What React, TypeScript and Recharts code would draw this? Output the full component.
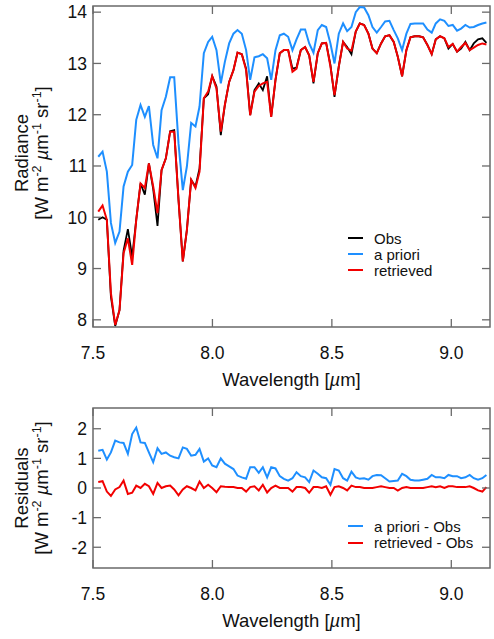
import { LineChart, Line, XAxis, YAxis, ReferenceArea, Legend } from 'recharts';

// sample grid (µm)
const WAVELENGTH = [
  7.522, 7.540, 7.558, 7.575, 7.593, 7.611, 7.628, 7.646, 7.664, 7.681,
  7.699, 7.717, 7.734, 7.752, 7.770, 7.787, 7.805, 7.823, 7.840, 7.858,
  7.876, 7.893, 7.911, 7.929, 7.946, 7.964, 7.982, 7.999, 8.017, 8.035,
  8.052, 8.070, 8.088, 8.105, 8.123, 8.141, 8.158, 8.176, 8.194, 8.211,
  8.229, 8.246, 8.264, 8.282, 8.299, 8.317, 8.335, 8.352, 8.370, 8.388,
  8.405, 8.423, 8.441, 8.458, 8.476, 8.494, 8.511, 8.529, 8.547, 8.564,
  8.582, 8.600, 8.617, 8.635, 8.653, 8.670, 8.688, 8.706, 8.723, 8.741,
  8.759, 8.776, 8.794, 8.812, 8.829, 8.847, 8.865, 8.882, 8.900, 8.918,
  8.935, 8.953, 8.971, 8.988, 9.006, 9.024, 9.041, 9.059, 9.077, 9.094,
  9.112, 9.130, 9.147,
];

const OBS = [
  9.95, 10.0, 9.95, 8.45, 7.88, 8.19, 9.35, 9.77, 9.23, 9.95,
  10.66, 10.44, 11.05, 10.55, 9.83, 10.92, 11.15, 11.68, 11.7, 10.34,
  9.14, 9.75, 10.73, 10.6, 10.95, 12.32, 12.4, 12.75, 12.55, 11.6,
  12.19, 12.64, 12.87, 13.21, 13.18, 12.9, 11.99, 12.48, 12.61, 12.48,
  12.75, 11.96, 12.68, 13.2, 13.26, 13.26, 12.9, 12.92, 13.26, 13.32,
  13.16, 12.61, 13.2, 13.39, 13.4, 12.97, 12.35, 12.94, 13.42, 13.32,
  13.18, 13.62, 13.78, 13.75, 13.58, 13.29, 13.2, 13.39, 13.53, 13.55,
  13.42, 13.13, 12.75, 13.26, 13.51, 13.53, 13.53, 13.51, 13.36, 13.18,
  13.47, 13.53, 13.49, 13.29, 13.38, 13.23, 13.29, 13.42, 13.26, 13.39,
  13.47, 13.49, 13.4,
];

const A_PRIORI = [
  11.18, 11.28, 10.89, 9.89, 9.5, 9.72, 10.6, 10.89, 11.02, 11.9,
  12.19, 11.96, 12.17, 11.41, 11.15, 12.09, 12.35, 12.73, 12.73, 11.44,
  10.53, 10.99, 11.84, 11.77, 12.16, 13.2, 13.42, 13.52, 13.26, 12.61,
  13.03, 13.39, 13.58, 13.65, 13.58, 13.26, 12.68, 13.12, 13.14, 13.18,
  13.1, 12.68, 13.26, 13.55, 13.58, 13.52, 13.26, 13.47, 13.66, 13.66,
  13.39, 13.21, 13.65, 13.75, 13.71, 13.39, 13.0, 13.58, 13.78, 13.63,
  13.71, 14.0, 14.1, 14.09, 13.94, 13.71, 13.6, 13.71, 13.82, 13.83,
  13.65, 13.49, 13.26, 13.58, 13.77, 13.78, 13.78, 13.78, 13.66, 13.6,
  13.78, 13.86, 13.83, 13.73, 13.75, 13.64, 13.68, 13.75, 13.7, 13.71,
  13.75, 13.78, 13.8,
];

const RETRIEVED = [
  10.11, 10.23, 9.95, 8.52, 7.9, 8.19, 9.3, 9.59, 9.07, 9.95,
  10.66, 10.57, 11.05, 10.6, 10.08, 10.92, 11.15, 11.67, 11.67, 10.34,
  9.14, 9.75, 10.73, 10.57, 10.89, 12.32, 12.45, 12.75, 12.51, 11.67,
  12.19, 12.64, 12.87, 13.21, 13.18, 12.87, 11.99, 12.45, 12.56, 12.61,
  12.64, 11.96, 12.68, 13.2, 13.26, 13.26, 12.84, 12.9, 13.26, 13.32,
  13.16, 12.64, 13.2, 13.39, 13.4, 12.94, 12.38, 12.94, 13.42, 13.29,
  13.25, 13.62, 13.78, 13.75, 13.58, 13.29, 13.2, 13.39, 13.53, 13.55,
  13.42, 13.13, 12.75, 13.26, 13.51, 13.53, 13.53, 13.51, 13.36, 13.18,
  13.47, 13.53, 13.49, 13.32, 13.38, 13.23, 13.32, 13.4, 13.26, 13.31,
  13.36, 13.39, 13.37,
];

const RES_A_PRIORI = [
  1.26, 1.29, 0.96, 1.2, 1.6, 1.54, 1.52, 1.15, 1.82, 2.04,
  1.54, 1.52, 1.2, 0.87, 1.34, 1.15, 1.2, 1.09, 1.04, 1.0,
  1.37, 1.32, 1.09, 1.12, 1.32, 0.89, 1.0, 0.76, 0.7, 1.0,
  0.82, 0.73, 0.64, 0.42, 0.36, 0.31, 0.7, 0.7, 0.51, 0.7,
  0.36, 0.7, 0.66, 0.4, 0.31, 0.25, 0.33, 0.53, 0.4, 0.36,
  0.2, 0.59, 0.48, 0.36, 0.33, 0.11, 0.64, 0.59, 0.33, 0.25,
  0.55, 0.36, 0.31, 0.33, 0.28, 0.4, 0.44, 0.43, 0.33, 0.22,
  0.24, 0.25, 0.48, 0.4, 0.28, 0.25, 0.25, 0.28, 0.31, 0.44,
  0.36, 0.36, 0.33, 0.44, 0.4, 0.4, 0.33, 0.36, 0.44, 0.33,
  0.28, 0.33, 0.44,
];

const RES_RETRIEVED = [
  0.2, 0.23, -0.12, -0.27, -0.05, 0.03, 0.25, -0.2, -0.16, 0.08,
  0.0, 0.14, 0.06, -0.2, 0.17, 0.0, 0.06, 0.08, -0.05, -0.25,
  -0.05, 0.06, 0.0, -0.08, 0.22, 0.0, 0.11, 0.0, -0.14, 0.06,
  0.04, 0.03, 0.03, 0.0, 0.0, -0.12, 0.03, 0.06, -0.08, 0.11,
  -0.15, 0.0, 0.08, 0.0, 0.0, 0.0, -0.12, 0.03, 0.03, 0.0,
  -0.16, 0.03, 0.03, 0.0, 0.06, -0.23, 0.03, 0.06, 0.0, -0.08,
  0.08, 0.03, 0.03, 0.0, 0.0, 0.0, 0.03, 0.06, 0.03, 0.0,
  0.0, -0.09, 0.0, 0.03, 0.0, 0.0, 0.0, 0.0, 0.03, 0.06,
  0.03, 0.06, 0.0, 0.06, 0.06, 0.03, 0.03, 0.03, 0.06, 0.0,
  -0.08, -0.12, 0.03,
];

const X_TICKS = [7.5, 8.0, 8.5, 9.0];
const X_DOMAIN: [number, number] = [7.5, 9.162];
const RAD_TICKS = [8, 9, 10, 11, 12, 13, 14];
const RAD_DOMAIN: [number, number] = [7.86, 14.12];
const RES_TICKS = [-2, -1, 0, 1, 2];
const RES_DOMAIN: [number, number] = [-2.7, 2.7];

const FONT = '"Liberation Sans", Arial, Helvetica, sans-serif';
const INK = '#111';
const FRAME = '#6a6a6a';
const BLUE = '#1e8fff';
const RED = '#f20000';

const W = 494;
const PLOT_L = 93;
const PLOT_R = 490;
const TICK = 8;

const spectra = WAVELENGTH.map((wl, i) => ({
  wl,
  obs: OBS[i],
  apriori: A_PRIORI[i],
  retrieved: RETRIEVED[i],
}));

const residuals = WAVELENGTH.map((wl, i) => ({
  wl,
  apriori: RES_A_PRIORI[i],
  retrieved: RES_RETRIEVED[i],
}));

const makeXTick = (plotTop: number) => (p: any) => (
  <g>
    <line x1={p.x} x2={p.x} y1={p.y} y2={p.y - TICK} stroke={FRAME} strokeWidth={1.3} />
    <line x1={p.x} x2={p.x} y1={plotTop} y2={plotTop + TICK} stroke={FRAME} strokeWidth={1.3} />
    <text x={p.x} y={p.y + 32} textAnchor="middle" fontSize={17.5} fill={INK}>
      {Number(p.payload.value).toFixed(1)}
    </text>
  </g>
);

const YTick = (p: any) => (
  <g>
    <line x1={PLOT_L} x2={PLOT_L + TICK} y1={p.y} y2={p.y} stroke={FRAME} strokeWidth={1.3} />
    <line x1={PLOT_R - TICK} x2={PLOT_R} y1={p.y} y2={p.y} stroke={FRAME} strokeWidth={1.3} />
    <text x={p.x} y={p.y} dy="0.36em" textAnchor="end" fontSize={17.5} fill={INK}>
      {String(p.payload.value)}
    </text>
  </g>
);

const xTitle = (y: number) => () => (
  <text x={(PLOT_L + PLOT_R) / 2} y={y} textAnchor="middle" fontSize={18.5} fill={INK}>
    Wavelength [<tspan fontStyle="italic">µ</tspan>m]
  </text>
);

const yTitle = (name: string, cy: number) => () => (
  <g fill={INK} fontSize={18.5}>
    <text transform={`translate(28,${cy}) rotate(-90)`} textAnchor="middle">
      {name}
    </text>
    <text transform={`translate(48,${cy}) rotate(-90)`} textAnchor="middle">
      [W m<tspan dy={-7} fontSize={12.5}>-2</tspan>
      <tspan dy={7}> </tspan>
      <tspan fontStyle="italic">µ</tspan>m<tspan dy={-7} fontSize={12.5}>-1</tspan>
      <tspan dy={7}> sr</tspan>
      <tspan dy={-7} fontSize={12.5}>-1</tspan>
      <tspan dy={7}>]</tspan>
    </text>
  </g>
);

function LegendBox({ payload, rowH }: any) {
  return (
    <div style={{ fontFamily: FONT, fontSize: 15, color: INK }}>
      {(payload ?? []).map((e: any) => (
        <div key={e.value} style={{ display: 'flex', alignItems: 'center', height: rowH }}>
          <span style={{ width: 15, borderTop: `2px solid ${e.color}`, marginRight: 11 }} />
          <span>{e.value}</span>
        </div>
      ))}
    </div>
  );
}

export default function App() {
  return (
    <div style={{ position: 'absolute', left: 0, top: 0, width: W, height: 639, background: '#fff', fontFamily: FONT }}>
      <div style={{ position: 'absolute', left: 0, top: 0 }}>
        <LineChart width={W} height={395} data={spectra} margin={{ top: 6, right: W - PLOT_R, bottom: 0, left: 0 }}>
          <XAxis
            dataKey="wl"
            type="number"
            domain={X_DOMAIN}
            ticks={X_TICKS}
            allowDataOverflow
            height={68}
            axisLine={false}
            tickLine={false}
            tickSize={0}
            tickMargin={0}
            tick={makeXTick(6)}
            label={{ content: xTitle(386) }}
          />
          <YAxis
            type="number"
            domain={RAD_DOMAIN}
            ticks={RAD_TICKS}
            allowDataOverflow
            width={PLOT_L}
            axisLine={false}
            tickLine={false}
            tickSize={0}
            tickMargin={6}
            tick={YTick}
            label={{ content: yTitle('Radiance', 153) }}
          />
          <ReferenceArea
            x1={X_DOMAIN[0]}
            x2={X_DOMAIN[1]}
            y1={RAD_DOMAIN[0]}
            y2={RAD_DOMAIN[1]}
            fill="none"
            stroke={FRAME}
            strokeWidth={1.5}
            ifOverflow="visible"
          />
          <Line dataKey="obs" name="Obs" stroke="#000" strokeWidth={1.8} dot={false} isAnimationActive={false} />
          <Line dataKey="apriori" name="a priori" stroke={BLUE} strokeWidth={2} dot={false} isAnimationActive={false} />
          <Line dataKey="retrieved" name="retrieved" stroke={RED} strokeWidth={2} dot={false} isAnimationActive={false} />
          <Legend
            layout="horizontal"
            verticalAlign="middle"
            align="center"
            wrapperStyle={{ left: 348, top: 230, width: 130, height: 50 }}
            content={(props: any) => <LegendBox {...props} rowH={16} />}
          />
        </LineChart>
      </div>
      <div style={{ position: 'absolute', left: 0, top: 395 }}>
        <LineChart width={W} height={244} data={residuals} margin={{ top: 13, right: W - PLOT_R, bottom: 0, left: 0 }}>
          <XAxis
            dataKey="wl"
            type="number"
            domain={X_DOMAIN}
            ticks={X_TICKS}
            allowDataOverflow
            height={71}
            axisLine={false}
            tickLine={false}
            tickSize={0}
            tickMargin={0}
            tick={makeXTick(13)}
            label={{ content: xTitle(232) }}
          />
          <YAxis
            type="number"
            domain={RES_DOMAIN}
            ticks={RES_TICKS}
            allowDataOverflow
            width={PLOT_L}
            axisLine={false}
            tickLine={false}
            tickSize={0}
            tickMargin={6}
            tick={YTick}
            label={{ content: yTitle('Residuals', 93) }}
          />
          <ReferenceArea
            x1={X_DOMAIN[0]}
            x2={X_DOMAIN[1]}
            y1={RES_DOMAIN[0]}
            y2={RES_DOMAIN[1]}
            fill="none"
            stroke={FRAME}
            strokeWidth={1.5}
            ifOverflow="visible"
          />
          <Line dataKey="apriori" name="a priori - Obs" stroke={BLUE} strokeWidth={2} dot={false} isAnimationActive={false} />
          <Line dataKey="retrieved" name="retrieved - Obs" stroke={RED} strokeWidth={2} dot={false} isAnimationActive={false} />
          <Legend
            layout="horizontal"
            verticalAlign="middle"
            align="center"
            wrapperStyle={{ left: 348, top: 123, width: 140, height: 34 }}
            content={(props: any) => <LegendBox {...props} rowH={16.5} />}
          />
        </LineChart>
      </div>
    </div>
  );
}
